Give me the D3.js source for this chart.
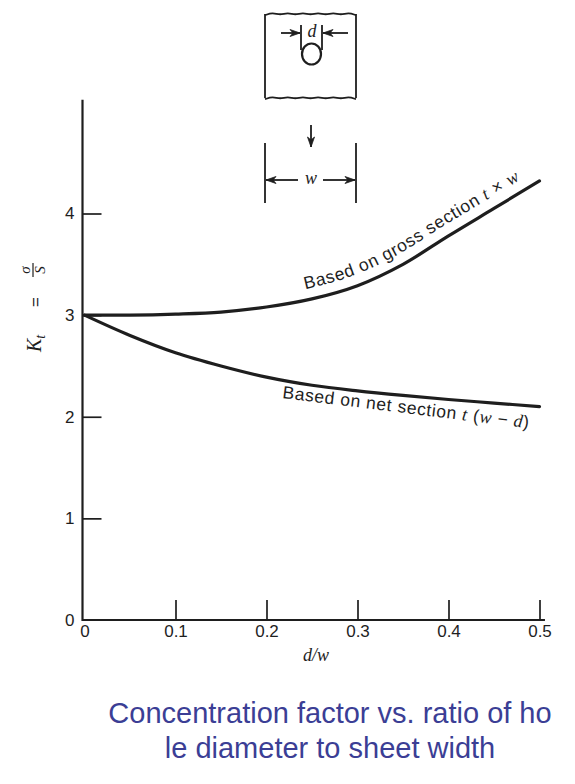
<!DOCTYPE html>
<html><head><meta charset="utf-8">
<script src="https://cdn.jsdelivr.net/npm/d3@7"></script>
<style>body{margin:0;background:#fff}svg{display:block}</style>
</head><body>
<script>
// ---- data ----
const ratios   = [0, 0.05, 0.1, 0.15, 0.2, 0.25, 0.3, 0.35, 0.4, 0.45, 0.5];
const grossKt  = [3.00, 3.00, 3.01, 3.03, 3.08, 3.16, 3.29, 3.50, 3.78, 4.05, 4.32];
const netKt    = [3.00, 2.80, 2.63, 2.50, 2.39, 2.31, 2.255, 2.21, 2.17, 2.135, 2.10];
const xTicks   = [0, 0.1, 0.2, 0.3, 0.4, 0.5];
const xTickLabels = ["0", "0.1", "0.2", "0.3", "0.4", "0.5"];
const yTicks   = [0, 1, 2, 3, 4];
const yTickLabels = ["0", "1", "2", "3", "4"];
const grossLabel = ["Based on gross section ", "t", " × ", "w"];
const netLabel   = ["Based on net section ", "t", " (", "w", " − ", "d", ")"];
const titleLines = ["Concentration factor vs. ratio of ho", "le diameter to sheet width"];

const W = 575, H = 784;
const ink = "#1e1e1e";
const sans = "'Liberation Sans', Arial, Helvetica, sans-serif";
const serif = "'Liberation Serif', 'Times New Roman', serif";
const italicParts = new Set(["t", "w", "d"]);

const svg = d3.select("body").append("svg").attr("width", W).attr("height", H)
  .style("background", "#fff");

const x = d3.scaleLinear().domain([0, 0.5]).range([84.5, 539.5]);
const y = d3.scaleLinear().domain([0, 4]).range([620, 213.5]);
const axisX = 82.5;

// ---- axes ----
const yAxis = svg.append("g").attr("transform", `translate(${axisX},0)`)
  .call(d3.axisLeft(y).tickValues(yTicks).tickFormat((d, i) => yTickLabels[i])
    .tickSizeInner(-19).tickSizeOuter(0).tickPadding(8));
yAxis.select(".domain").remove();
yAxis.selectAll(".tick line").attr("stroke", ink).attr("stroke-width", 1.7)
  .filter(d => d === 0).remove();
yAxis.selectAll(".tick text").attr("fill", ink).style("font-family", sans).style("font-size", "17px");

const xAxis = svg.append("g").attr("transform", `translate(0,${y(0)})`)
  .call(d3.axisBottom(x).tickValues(xTicks).tickFormat((d, i) => xTickLabels[i])
    .tickSizeInner(-20).tickSizeOuter(0).tickPadding(5));
xAxis.select(".domain").remove();
xAxis.selectAll(".tick line").attr("stroke", ink).attr("stroke-width", 1.7)
  .filter(d => d === 0).remove();
xAxis.selectAll(".tick text").attr("fill", ink).style("font-family", sans).style("font-size", "17px");

svg.append("line").attr("x1", axisX).attr("x2", axisX).attr("y1", y(0) + 1).attr("y2", y(5.12))
  .attr("stroke", ink).attr("stroke-width", 2.2);
svg.append("line").attr("x1", axisX).attr("x2", x(0.506)).attr("y1", y(0)).attr("y2", y(0))
  .attr("stroke", ink).attr("stroke-width", 2.2);

// axis titles
svg.append("text").attr("x", (x(0) + x(0.5)) / 2 + 4).attr("y", 661).attr("text-anchor", "middle")
  .style("font-family", serif).style("font-style", "italic").style("font-size", "18px").attr("fill", ink)
  .text("d/w");

const yl = svg.append("g").attr("transform", "translate(41,352) rotate(-90)")
  .style("fill", ink);
const kt = yl.append("text").style("font-family", serif).style("font-style", "italic").style("font-size", "20px");
kt.append("tspan").text("K");
kt.append("tspan").attr("dy", 4).style("font-size", "14px").text("t");
yl.append("text").attr("x", 50).attr("y", 0).attr("text-anchor", "middle")
  .style("font-family", sans).style("font-size", "17px").text("=");
yl.append("line").attr("x1", 75).attr("x2", 89).attr("y1", -8).attr("y2", -8)
  .attr("stroke", ink).attr("stroke-width", 1.2);
yl.append("text").attr("x", 82).attr("y", -11).attr("text-anchor", "middle")
  .style("font-family", serif).style("font-style", "italic").style("font-size", "15px").text("σ");
yl.append("text").attr("x", 82).attr("y", 4).attr("text-anchor", "middle")
  .style("font-family", serif).style("font-style", "italic").style("font-size", "15px").text("S");

// ---- curves ----
const line = d3.line().x((d, i) => x(ratios[i])).y(d => y(d)).curve(d3.curveCatmullRom.alpha(0.5));
[grossKt, netKt].forEach(vals => {
  svg.append("path").attr("d", line(vals)).attr("fill", "none").attr("stroke", ink)
    .attr("stroke-width", 3.2).attr("stroke-linecap", "round");
});

// offset path helper for curved labels
const defs = svg.append("defs");
function offsetPath(vals, off, xStart, id) {
  const tmp = svg.append("path").attr("d", line(vals)).attr("fill", "none");
  const node = tmp.node(), L = node.getTotalLength();
  const pts = [];
  for (let s = 0; s <= L; s += 2) {
    const p = node.getPointAtLength(s);
    const a = node.getPointAtLength(Math.max(0, s - 2));
    const b = node.getPointAtLength(Math.min(L, s + 2));
    const dx = b.x - a.x, dy = b.y - a.y, n = Math.hypot(dx, dy) || 1;
    if (p.x >= xStart) pts.push([p.x + off * dy / n, p.y - off * dx / n]);
  }
  const last = pts[pts.length - 1], prev = pts[pts.length - 2];
  pts.push([last[0] + (last[0] - prev[0]) * 20, last[1] + (last[1] - prev[1]) * 20]);
  tmp.remove();
  defs.append("path").attr("id", id).attr("d", d3.line()(pts));
}
offsetPath(grossKt, 11, 306, "grossPath");
const gt = svg.append("text").style("font-family", sans).style("font-size", "17.5px")
  .style("letter-spacing", "0.7px").attr("fill", ink);
const gtp = gt.append("textPath").attr("href", "#grossPath");
grossLabel.forEach(s => {
  const t = gtp.append("tspan").text(s);
  if (italicParts.has(s)) t.style("font-family", serif).style("font-style", "italic").style("font-size", "18px");
});

const nt = svg.append("text").attr("transform", "translate(282,398) rotate(7)")
  .style("font-family", sans).style("font-size", "17.5px").style("letter-spacing", "0.6px").attr("fill", ink);
netLabel.forEach(s => {
  const t = nt.append("tspan").text(s);
  if (italicParts.has(s)) t.style("font-family", serif).style("font-style", "italic").style("font-size", "18px");
});

// ---- top diagram: plate with hole ----
const dg = svg.append("g").attr("stroke", ink).attr("fill", "none").attr("stroke-width", 1.8);
const plateL = 265, plateR = 356, plateT = 14, plateB = 98;
const wave = (y0) => {
  const pts = [];
  for (let i = 0; i <= 12; i++) pts.push([plateL + (plateR - plateL) * i / 12, y0 + (i % 2 ? -1.6 : 1.2)]);
  return d3.line().curve(d3.curveBasis)(pts);
};
dg.append("path").attr("d", wave(plateT));
dg.append("path").attr("d", wave(plateB));
dg.append("line").attr("x1", plateL).attr("x2", plateL).attr("y1", plateT).attr("y2", plateB);
dg.append("line").attr("x1", plateR).attr("x2", plateR).attr("y1", plateT).attr("y2", plateB);
dg.append("ellipse").attr("cx", 311.5).attr("cy", 54).attr("rx", 9.5).attr("ry", 10.5).attr("stroke-width", 2.2);
dg.append("line").attr("x1", 301).attr("x2", 301).attr("y1", 25).attr("y2", 50);
dg.append("line").attr("x1", 322).attr("x2", 322).attr("y1", 25).attr("y2", 50);

function arrow(g, x1, y1, x2, y2) {
  g.append("line").attr("x1", x1).attr("y1", y1).attr("x2", x2).attr("y2", y2);
  const ang = Math.atan2(y2 - y1, x2 - x1), len = 10, half = 3.5;
  const bx = x2 - len * Math.cos(ang), by = y2 - len * Math.sin(ang);
  const px = -Math.sin(ang) * half, py = Math.cos(ang) * half;
  g.append("path").attr("d", `M${x2},${y2}L${bx + px},${by + py}L${bx + 3 * Math.cos(ang)},${by + 3 * Math.sin(ang)}L${bx - px},${by - py}Z`)
    .attr("fill", ink).attr("stroke-width", 0.8);
}
arrow(dg, 281, 33, 300, 33);
arrow(dg, 348, 33, 323, 33);
svg.append("text").attr("x", 312).attr("y", 37).attr("text-anchor", "middle")
  .style("font-family", serif).style("font-style", "italic").style("font-size", "18px").attr("fill", ink).text("d");

arrow(dg, 311, 125, 311, 147);

dg.append("line").attr("x1", plateL).attr("x2", plateL).attr("y1", 143).attr("y2", 203);
dg.append("line").attr("x1", plateR).attr("x2", plateR).attr("y1", 143).attr("y2", 203);
arrow(dg, 298, 180, plateL + 1, 180);
arrow(dg, 323, 180, plateR - 1, 180);
svg.append("text").attr("x", 311).attr("y", 184).attr("text-anchor", "middle")
  .style("font-family", serif).style("font-style", "italic").style("font-size", "18px").attr("fill", ink).text("w");

// ---- caption ----
svg.append("g").selectAll("text").data(titleLines).join("text")
  .attr("x", 330).attr("y", (d, i) => 723 + i * 35).attr("text-anchor", "middle")
  .style("font-family", sans).style("font-size", "29px").attr("fill", "#3b3e95")
  .text(d => d);
</script>
</body></html>
